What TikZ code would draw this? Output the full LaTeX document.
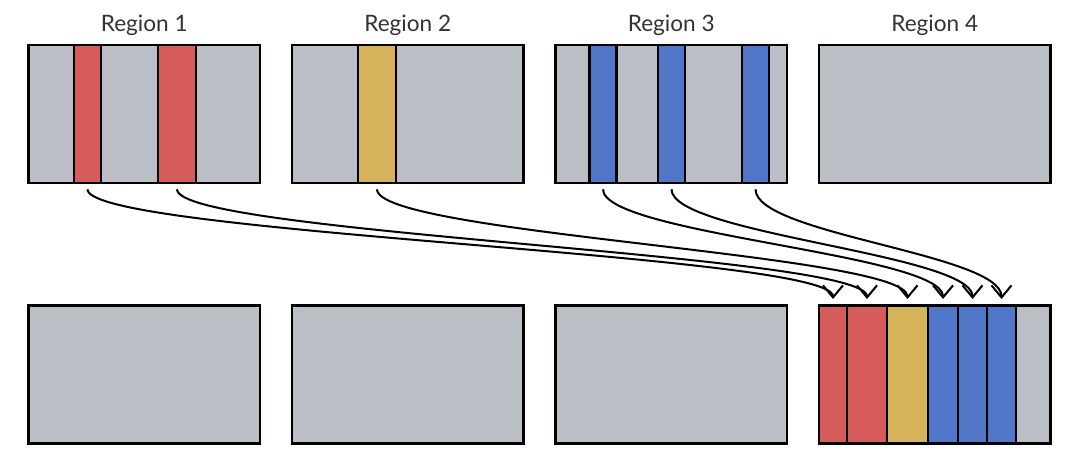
\documentclass[tikz,border=0pt]{standalone}
\usepackage{fontspec}
\setmainfont{Lato}
\usetikzlibrary{arrows.meta}
\definecolor{regiongray}{HTML}{BBBEC5}
\definecolor{stripered}{HTML}{D55C5B}
\definecolor{stripeyellow}{HTML}{D5B35A}
\definecolor{stripeblue}{HTML}{5077C7}
\definecolor{titlegray}{HTML}{333333}
\tikzset{>={Straight Barb[length=6pt,width=10pt,line width=1pt]}}

\begin{document}
\begin{tikzpicture}[x=.5pt,y=-.5pt,
  box/.style={draw,fill=regiongray,line width=1.3pt,minimum width=115.75pt,minimum height=69pt,inner sep=0},
  stripe/.style={draw,line width=1.3pt,minimum height=69pt,inner sep=0},
  link/.style={->,line width=1pt,shorten <=2.5pt,shorten >=2.5pt},
  title/.style={anchor=base,text=titlegray,font=\fontsize{11.3}{13}\selectfont}]
\useasboundingbox (0,0) rectangle (1080,459);
% region boxes, top and bottom row
\foreach \i/\cx in {1/144.25,2/407.75,3/671.25,4/934.75} {
  \node[box] (top\i) at (\cx,114) {};
  \node[title] (title\i) at (\cx,32) {Region \i};
  \node[box] (bot\i) at (\cx,374.25) {};
}
% stripes in the source regions
\node[stripe,fill=stripered,minimum width=13.5pt] (r1a) at (87.5,114) {};
\node[stripe,fill=stripered,minimum width=19pt] (r1b) at (177,114) {};
\node[stripe,fill=stripeyellow,minimum width=19pt] (y2) at (377,114) {};
\node[stripe,fill=stripeblue,minimum width=13.75pt] (b3a) at (603,114) {};
\node[stripe,fill=stripeblue,minimum width=13.5pt] (b3b) at (671.5,114) {};
\node[stripe,fill=stripeblue,minimum width=13.5pt] (b3c) at (755.5,114) {};
% stripes packed into region 4
\node[stripe,fill=stripered,minimum width=14pt] (d1) at (833,374.25) {};
\node[stripe,fill=stripered,minimum width=20pt] (d2) at (867,374.25) {};
\node[stripe,fill=stripeyellow,minimum width=20.5pt] (d3) at (907.5,374.25) {};
\node[stripe,fill=stripeblue,minimum width=15pt] (d4) at (943,374.25) {};
\node[stripe,fill=stripeblue,minimum width=14.5pt] (d5) at (972.5,374.25) {};
\node[stripe,fill=stripeblue,minimum width=14.5pt] (d6) at (1001.5,374.25) {};
% moves
\foreach \a/\b in {r1a/d1,r1b/d2,y2/d3,b3a/d4,b3b/d5,b3c/d6}
  \draw[link] (\a.south) .. controls +(0,50) and +(0,-50) .. (\b.north);
\end{tikzpicture}
\end{document}
